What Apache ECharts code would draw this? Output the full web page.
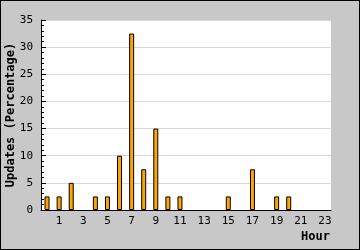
<!DOCTYPE html>
<html><head><meta charset="utf-8">
<script src="https://cdn.jsdelivr.net/npm/echarts@6/dist/echarts.min.js"></script>
<style>
html,body{margin:0;padding:0;background:#c8c8c8;overflow:hidden;}
#wrap{width:360px;height:250px;box-sizing:border-box;border:1px solid #000;}
#c{width:358px;height:248px;}
</style></head><body>
<div id="wrap"><div id="c"></div></div>
<script>
var hours = ['0','1','2','3','4','5','6','7','8','9','10','11','12','13','14','15','16','17','18','19','20','21','22','23'];
var updates = [2.5,2.5,5,0,2.5,2.5,10,32.5,7.5,15,2.5,2.5,0,0,0,2.5,0,7.5,0,2.5,2.5,0,0,0];
var yTicks = {min:0, max:35, step:5};
var xTitle = 'Hour';
var yTitle = 'Updates (Percentage)';

var chart = echarts.init(document.getElementById('c'));
var mono = '"DejaVu Sans Mono", monospace';
chart.setOption({
  backgroundColor: '#c8c8c8',
  animation: false,
  grid: {left: 40, right: 28, top: 19, bottom: 39, show: true, backgroundColor: '#fff', borderWidth: 0, containLabel: false, outerBoundsMode: 'none'},
  xAxis: {
    type: 'category',
    data: hours,
    name: xTitle,
    nameLocation: 'end',
    nameGap: -1,
    nameMoveOverlap: false,
    nameTextStyle: {fontFamily: mono, fontWeight: 'bold', fontSize: 12, color: '#000', align: 'right', verticalAlign: 'top', padding: [21,0,0,0]},
    axisLine: {lineStyle: {color: '#000', width: 1}},
    axisTick: {inside: true, length: 5, interval: 0, lineStyle: {color: '#000'}},
    axisLabel: {interval: function(i){return i % 2 === 1;}, fontFamily: mono, fontSize: 11, color: '#000', margin: 6},
    splitLine: {show: false}
  },
  yAxis: {
    type: 'value',
    min: yTicks.min, max: yTicks.max, interval: yTicks.step,
    name: yTitle,
    nameLocation: 'middle',
    nameRotate: 90,
    nameGap: 24,
    nameMoveOverlap: false,
    nameTextStyle: {fontFamily: mono, fontWeight: 'bold', fontSize: 12, color: '#000'},
    axisLine: {show: true, lineStyle: {color: '#000', width: 1}},
    axisTick: {show: true, inside: true, length: 5, lineStyle: {color: '#000'}},
    minorTick: {show: true, splitNumber: 5, length: 3, lineStyle: {color: '#000'}},
    axisLabel: {fontFamily: mono, fontSize: 11, color: '#000', margin: 8},
    splitLine: {show: true, lineStyle: {color: '#d8d8d8', width: 1}}
  },
  series: [{
    type: 'bar',
    data: updates.map(function(v){return v === 0 ? '-' : v;}),
    barWidth: 5,
    itemStyle: {color: '#ffa500', borderColor: '#000', borderWidth: 1}
  }]
});
</script></body></html>
